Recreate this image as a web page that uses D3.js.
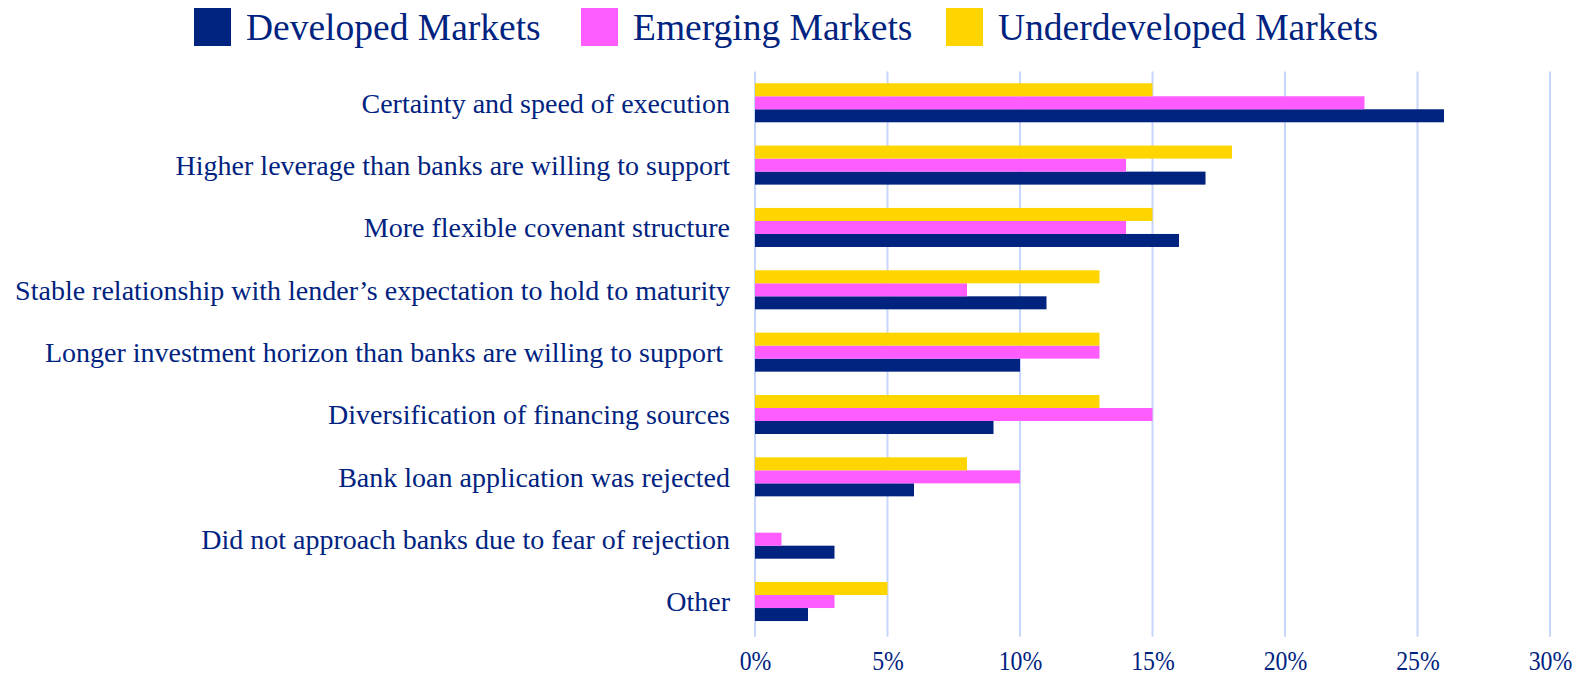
<!DOCTYPE html>
<html>
<head>
<meta charset="utf-8">
<script src="https://cdn.jsdelivr.net/npm/d3@7"></script>
<style>
  body { margin: 0; background: #fff; }
  svg text { font-family: "Liberation Serif", "Times New Roman", serif; fill: #00237f; }
</style>
</head>
<body>
<div id="chart"></div>
<script>
// data
const categories = [
  "Certainty and speed of execution",
  "Higher leverage than banks are willing to support",
  "More flexible covenant structure",
  "Stable relationship with lender\u2019s expectation to hold to maturity",
  "Longer investment horizon than banks are willing to support ",
  "Diversification of financing sources",
  "Bank loan application was rejected",
  "Did not approach banks due to fear of rejection",
  "Other"
];
const seriesNames = ["Developed Markets", "Emerging Markets", "Underdeveloped Markets"];
const developed = [26, 17, 16, 11, 10, 9, 6, 3, 2];
const emerging = [23, 14, 14, 8, 13, 15, 10, 1, 3];
const underdeveloped = [15, 18, 15, 13, 13, 13, 8, 0, 5];
const xTicks = [0, 5, 10, 15, 20, 25, 30];

const colors = { "Developed Markets": "#00237f", "Emerging Markets": "#ff5cff", "Underdeveloped Markets": "#ffd500" };
const seriesValues = { "Developed Markets": developed, "Emerging Markets": emerging, "Underdeveloped Markets": underdeveloped };

const width = 1591, height = 678;
const plotLeft = 755, plotRight = 1550, plotTop = 71.6, plotBottom = 632.7;

const svg = d3.select("#chart").append("svg")
  .attr("width", width)
  .attr("height", height);

const x = d3.scaleLinear().domain([0, 30]).range([plotLeft, plotRight]);

const y = d3.scaleBand()
  .domain(categories)
  .range([plotTop, plotBottom])
  .paddingInner(0.374)
  .paddingOuter(0.187);

// bars inside each group: underdeveloped on top, developed at bottom
const yInner = d3.scaleBand()
  .domain(["Underdeveloped Markets", "Emerging Markets", "Developed Markets"])
  .range([0, y.bandwidth()]);

// gridlines
svg.append("g")
  .selectAll("line")
  .data(xTicks)
  .join("line")
  .attr("x1", d => x(d)).attr("x2", d => x(d))
  .attr("y1", plotTop).attr("y2", plotBottom + 4)
  .attr("stroke", "#c9d6fb")
  .attr("stroke-width", 2);

// bars
const groups = svg.append("g")
  .selectAll("g")
  .data(categories)
  .join("g")
  .attr("transform", d => `translate(0,${y(d)})`);

groups.selectAll("rect")
  .data((d, i) => seriesNames.map(s => ({ series: s, value: seriesValues[s][i] })))
  .join("rect")
  .attr("x", x(0))
  .attr("y", d => yInner(d.series))
  .attr("width", d => x(d.value) - x(0))
  .attr("height", yInner.bandwidth())
  .attr("fill", d => colors[d.series]);

// category labels
svg.append("g")
  .selectAll("text")
  .data(categories)
  .join("text")
  .attr("x", 730)
  .attr("y", d => y(d) + y.bandwidth() / 2)
  .attr("dy", "0.35em")
  .attr("text-anchor", "end")
  .style("white-space", "pre")
  .style("font-size", "28px")
  .text(d => d);

// x axis labels (narrow, tall digits like the original)
const xAxis = d3.axisBottom(x)
  .tickValues(xTicks)
  .tickFormat(d => d + "%")
  .tickSize(0)
  .tickPadding(0);

const axisG = svg.append("g")
  .attr("transform", `translate(0,${plotBottom})`)
  .call(xAxis);
axisG.select(".domain").remove();
axisG.selectAll("text")
  .attr("y", 37.5)
  .attr("dy", 0)
  .attr("transform", "scale(0.85,1)")
  .style("font-size", "28px")
  .style("font-family", "\"Liberation Serif\", \"Times New Roman\", serif")
  .attr("fill", "#00237f");

// legend
const legendX = [194, 581, 946];
const legend = svg.append("g")
  .selectAll("g")
  .data(seriesNames)
  .join("g")
  .attr("transform", (d, i) => `translate(${legendX[i]},8)`);

legend.append("rect")
  .attr("width", 37)
  .attr("height", 38)
  .attr("fill", d => colors[d]);

legend.append("text")
  .attr("x", 52)
  .attr("y", 19)
  .attr("dy", "0.35em")
  .style("font-size", "37.5px")
  .text(d => d);
</script>
</body>
</html>
